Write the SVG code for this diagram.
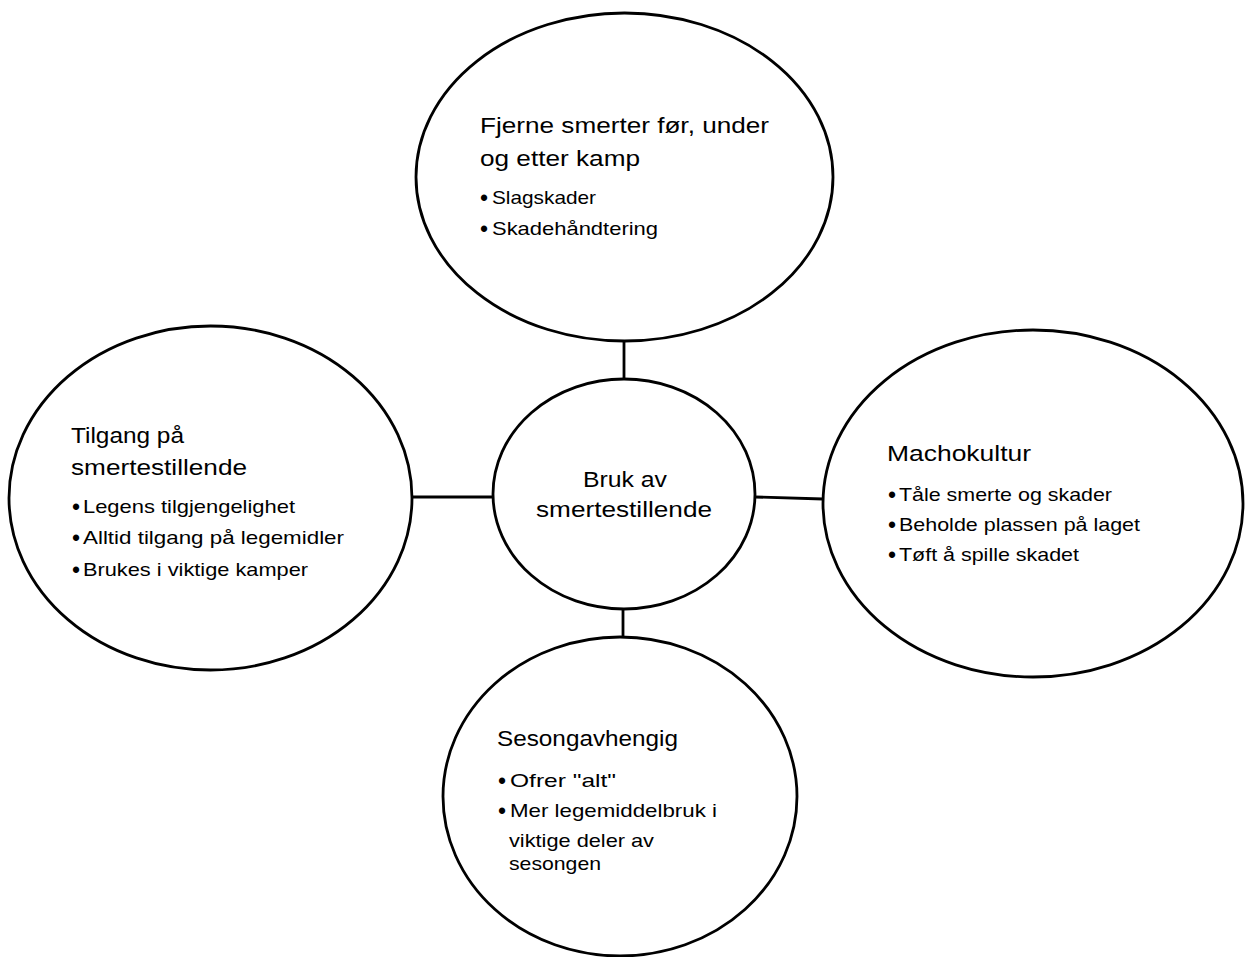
<svg xmlns="http://www.w3.org/2000/svg" width="1245" height="957" viewBox="0 0 1245 957">
  <style>
    .node { fill: #ffffff; stroke: #000000; stroke-width: 2.8; }
    .link { stroke: #000000; stroke-width: 2.8; fill: none; }
    text { font-family: "Liberation Sans", Arial, sans-serif; fill: #000000; }
    .head { font-size: 22.3px; }
    .item { font-size: 18.6px; }
    .dot { font-size: 23px; }
  </style>
  <rect width="1245" height="957" fill="#ffffff"/>

  <!-- connectors between the central topic and its four themes -->
  <g id="connectors">
    <line class="link" x1="624" y1="341" x2="624" y2="379"/>
    <line class="link" x1="412" y1="497" x2="493" y2="497"/>
    <line class="link" x1="755" y1="497" x2="823" y2="499"/>
    <line class="link" x1="623" y1="609" x2="623" y2="637"/>
  </g>

  <!-- top theme -->
  <g id="node-top">
    <ellipse class="node" cx="624.5" cy="177" rx="208.5" ry="164"/>
    <text class="head" x="480" y="133" textLength="289" lengthAdjust="spacingAndGlyphs">Fjerne smerter før, under</text>
    <text class="head" x="480" y="166" textLength="160" lengthAdjust="spacingAndGlyphs">og etter kamp</text>
    <text class="item" x="480" y="204"><tspan class="dot" dy="2">•</tspan><tspan x="492" dy="-2" textLength="104" lengthAdjust="spacingAndGlyphs">Slagskader</tspan></text>
    <text class="item" x="480" y="235"><tspan class="dot" dy="2">•</tspan><tspan x="492" dy="-2" textLength="166" lengthAdjust="spacingAndGlyphs">Skadehåndtering</tspan></text>
  </g>

  <!-- left theme -->
  <g id="node-left">
    <ellipse class="node" cx="210.5" cy="498" rx="201.5" ry="172"/>
    <text class="head" x="71" y="443" textLength="113" lengthAdjust="spacingAndGlyphs">Tilgang på</text>
    <text class="head" x="71" y="475" textLength="176" lengthAdjust="spacingAndGlyphs">smertestillende</text>
    <text class="item" x="72" y="513"><tspan class="dot" dy="2">•</tspan><tspan x="83" dy="-2" textLength="212" lengthAdjust="spacingAndGlyphs">Legens tilgjengelighet</tspan></text>
    <text class="item" x="72" y="544"><tspan class="dot" dy="2">•</tspan><tspan x="83" dy="-2" textLength="261" lengthAdjust="spacingAndGlyphs">Alltid tilgang på legemidler</tspan></text>
    <text class="item" x="72" y="576"><tspan class="dot" dy="2">•</tspan><tspan x="83" dy="-2" textLength="225" lengthAdjust="spacingAndGlyphs">Brukes i viktige kamper</tspan></text>
  </g>

  <!-- central topic -->
  <g id="node-center">
    <ellipse class="node" cx="624" cy="494" rx="131" ry="115"/>
    <text class="head" x="583" y="487" textLength="84" lengthAdjust="spacingAndGlyphs">Bruk av</text>
    <text class="head" x="536" y="517" textLength="176" lengthAdjust="spacingAndGlyphs">smertestillende</text>
  </g>

  <!-- right theme -->
  <g id="node-right">
    <ellipse class="node" cx="1033" cy="503.5" rx="210" ry="173.5"/>
    <text class="head" x="887" y="461" textLength="144" lengthAdjust="spacingAndGlyphs">Machokultur</text>
    <text class="item" x="888" y="501"><tspan class="dot" dy="2">•</tspan><tspan x="899" dy="-2" textLength="213" lengthAdjust="spacingAndGlyphs">Tåle smerte og skader</tspan></text>
    <text class="item" x="888" y="531"><tspan class="dot" dy="2">•</tspan><tspan x="899" dy="-2" textLength="241" lengthAdjust="spacingAndGlyphs">Beholde plassen på laget</tspan></text>
    <text class="item" x="888" y="561"><tspan class="dot" dy="2">•</tspan><tspan x="899" dy="-2" textLength="180" lengthAdjust="spacingAndGlyphs">Tøft å spille skadet</tspan></text>
  </g>

  <!-- bottom theme -->
  <g id="node-bottom">
    <ellipse class="node" cx="620" cy="796.5" rx="177" ry="159.5"/>
    <text class="head" x="497" y="746" textLength="181" lengthAdjust="spacingAndGlyphs">Sesongavhengig</text>
    <text class="item" x="498" y="787"><tspan class="dot" dy="2">•</tspan><tspan x="510" dy="-2" textLength="106" lengthAdjust="spacingAndGlyphs">Ofrer "alt"</tspan></text>
    <text class="item" x="498" y="817"><tspan class="dot" dy="2">•</tspan><tspan x="510" dy="-2" textLength="207" lengthAdjust="spacingAndGlyphs">Mer legemiddelbruk i</tspan></text>
    <text class="item" x="509" y="847" textLength="145" lengthAdjust="spacingAndGlyphs">viktige deler av</text>
    <text class="item" x="509" y="870" textLength="92" lengthAdjust="spacingAndGlyphs">sesongen</text>
  </g>
</svg>
